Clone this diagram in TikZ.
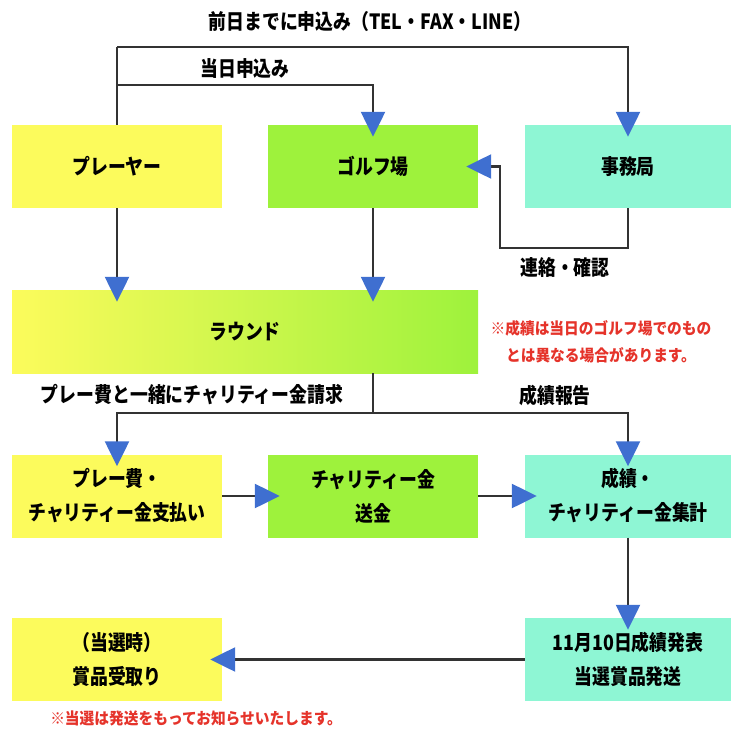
\documentclass[tikz,border=0pt]{standalone}
\usepackage{fontspec}
\setmainfont{Noto Sans CJK JP}
\newfontfamily\jpc{Noto Sans CJK JP}[FakeStretch=0.85]
\newfontfamily\jpn{Noto Sans CJK JP}[FakeStretch=0.92]
\usetikzlibrary{arrows.meta,calc}
\definecolor{cyel}{HTML}{FCFB5C}
\definecolor{cgrn}{HTML}{9EF23C}
\definecolor{cteal}{HTML}{8EF6D4}
\definecolor{cblue}{HTML}{3F6FD0}
\definecolor{cline}{HTML}{333333}
\definecolor{cred}{HTML}{E5332A}
\tikzset{
  box/.style={draw=none,minimum width=210pt,minimum height=83pt,align=center,font=\jpc\bfseries\fontsize{21}{34}\selectfont,inner sep=0pt},
  yelbox/.style={box,fill=cyel},
  grnbox/.style={box,fill=cgrn},
  tealbox/.style={box,fill=cteal,minimum width=206pt},
  conn/.style={draw=cline,line width=2.4pt,-{Triangle[width=24pt,length=25pt,color=cblue,fill=cblue]},shorten >=-12pt},
  plain/.style={draw=cline,line width=2.4pt},
  lbl/.style={font=\jpc\bfseries\fontsize{21}{24}\selectfont,inner sep=0pt},
  note/.style={font=\jpn\bfseries\fontsize{16}{27}\selectfont,text=cred,align=center,inner sep=0pt}
}
\begin{document}
\begin{tikzpicture}[x=1pt,y=-1pt]
\useasboundingbox (0,0) rectangle (731,731);
% boxes
\node[yelbox] (pl) at (117,166.5) {プレーヤー};
\node[grnbox] (gc) at (373,166.5) {ゴルフ場};
\node[tealbox] (jm) at (628,166.5) {事務局};
\node[box,minimum width=466pt,left color=cyel,right color=cgrn] (rd) at (245,331.5) {ラウンド};
\node[yelbox] (b1) at (117,496) {プレー費・\\チャリティー金支払い};
\node[grnbox] (b2) at (373,496) {チャリティー金\\送金};
\node[tealbox] (b3) at (628,496) {成績・\\チャリティー金集計};
\node[yelbox] (d1) at (117,659.5) {（当選時）\\賞品受取り};
\node[tealbox] (d3) at (628,659.5) {11月10日成績発表\\当選賞品発送};
% labels
\node[lbl] (t1) at (370,22) {前日までに申込み（TEL・FAX・LINE）};
\node[lbl] (t2) at (245,69) {当日申込み};
\node[lbl] (t3) at (565,268) {連絡・確認};
\node[lbl] (t4) at (192,395) {プレー費と一緒にチャリティー金請求};
\node[lbl] (t5) at (555,395) {成績報告};
\node[note] (n1) at (601,342) {※成績は当日のゴルフ場でのもの\\とは異なる場合があります。};
\node[note] (n2) at (196,718) {※当選は発送をもってお知らせいたします。};
% coordinates
\coordinate (k1) at (117,47);
\coordinate (k2) at (117,85);
\coordinate (k3) at (500,248);
\coordinate (k4) at (373,413);
% connectors
\draw[plain] (pl.north) -- (k1);
\draw[conn] (k1) -| (jm.north);
\draw[conn] (k2) -| (gc.north);
\draw[conn] (jm.south) |- (k3) |- (gc.east);
\draw[conn] (pl.south) -- (pl.south |- rd.north);
\draw[conn] (gc.south) -- (gc.south |- rd.north);
\draw[plain] (gc.south |- rd.south) -- (k4);
\draw[conn] (k4) -| (b1.north);
\draw[conn] (k4) -| (b3.north);
\draw[conn] (b1.east) -- (b2.west);
\draw[conn] (b2.east) -- (b3.west);
\draw[conn] (b3.south) -- (d3.north);
\draw[conn] (d3.west) -- (d1.east);
\end{tikzpicture}
\end{document}
